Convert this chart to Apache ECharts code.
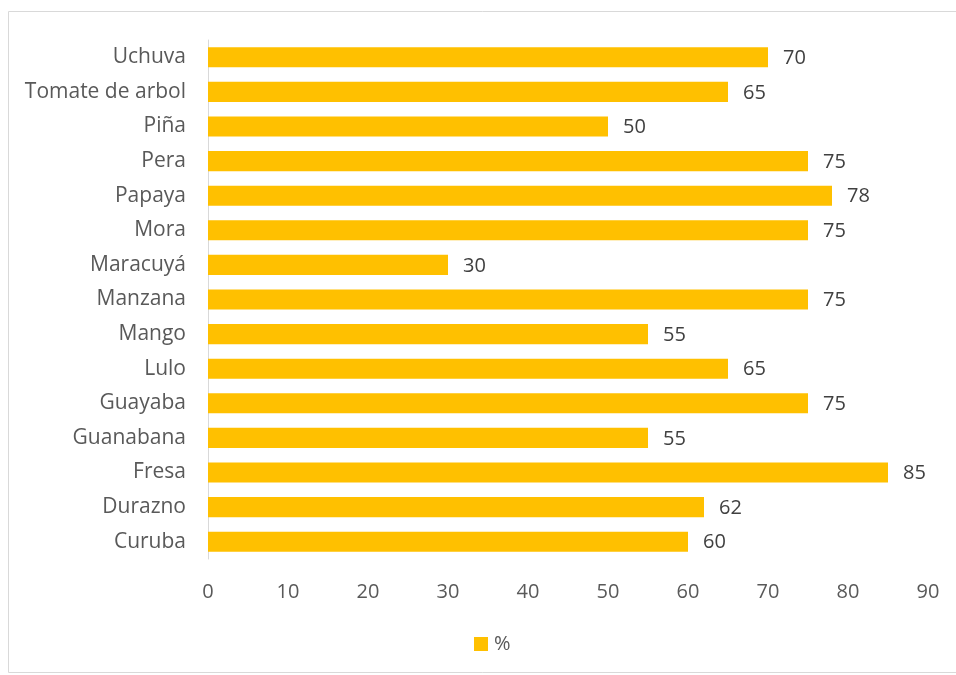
<!DOCTYPE html>
<html><head><meta charset="utf-8">
<script src="https://cdn.jsdelivr.net/npm/echarts@6/dist/echarts.min.js"></script>
<style>html,body{margin:0;padding:0;background:#fff}#c{width:956px;height:675px}</style>
</head><body><div id="c"></div>
<script>
const categories = ["Curuba","Durazno","Fresa","Guanabana","Guayaba","Lulo","Mango","Manzana","Maracuyá","Mora","Papaya","Pera","Piña","Tomate de arbol","Uchuva"];
const values = [60,62,85,55,75,65,55,75,30,75,78,75,50,65,70];
const xTicks = {min:0, max:90, interval:10};
const seriesName = "%";

const chart = echarts.init(document.getElementById('c'));
const font = "Open Sans";
chart.setOption({
  animation:false,
  textStyle:{fontFamily:font},
  graphic:[{type:'rect',shape:{x:8.5,y:11.5,width:960,height:661},style:{fill:'none',stroke:'#d9d9d9',lineWidth:1},silent:true}],
  grid:{left:208,right:28,top:40,bottom:116,containLabel:false},
  legend:{top:634,left:474,padding:0,itemWidth:14,itemHeight:14,icon:'rect',itemGap:6,
    textStyle:{color:'#595959',fontSize:20,fontFamily:font,padding:[0,0,0,1]}},
  xAxis:{type:'value',min:xTicks.min,max:xTicks.max,interval:xTicks.interval,
    splitLine:{show:false},axisLine:{show:false},axisTick:{show:false},
    axisLabel:{color:'#595959',fontSize:20,margin:23,fontFamily:font}},
  yAxis:{type:'category',data:categories,
    axisLine:{show:true,lineStyle:{color:'#d9d9d9',width:1}},axisTick:{show:false},
    axisLabel:{color:'#595959',fontSize:21,margin:22,fontFamily:font}},
  series:[{name:seriesName,type:'bar',data:values,barCategoryGap:'42%',
    itemStyle:{color:'#FFC000'},
    label:{show:true,position:'right',distance:15,offset:[0,1],color:'#404040',fontSize:20,fontFamily:font}}]
});
</script></body></html>
